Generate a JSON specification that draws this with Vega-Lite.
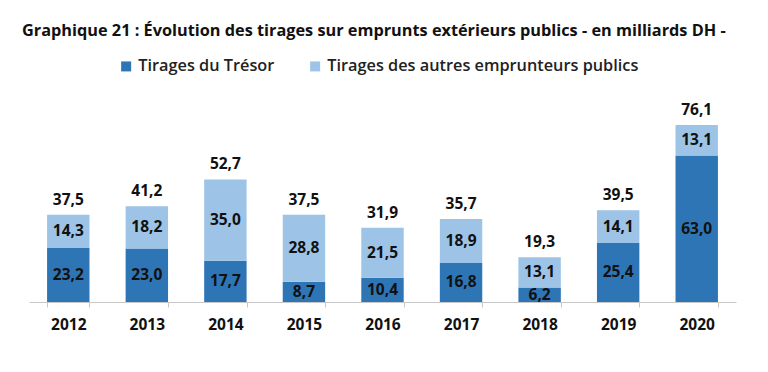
{
  "$schema": "https://vega.github.io/schema/vega-lite/v6.json",
  "width": 707,
  "height": 186,
  "autosize": {"type": "none"},
  "padding": {"left": 29, "top": 116, "right": 32, "bottom": 70},
  "background": "white",
  "title": {
    "text": "Graphique 21 : Évolution des tirages sur emprunts extérieurs publics - en milliards DH -",
    "anchor": "start",
    "frame": "group",
    "dx": -7,
    "offset": 19,
    "fontSize": 16.3,
    "font": "Open Sans",
    "fontWeight": "bold",
    "color": "#111111"
  },
  "data": {
    "values": [
      {"annee": "2012", "serie": "Tirages du Trésor", "ordre": 1, "valeur": 23.2},
      {"annee": "2012", "serie": "Tirages des autres emprunteurs publics", "ordre": 2, "valeur": 14.3},
      {"annee": "2013", "serie": "Tirages du Trésor", "ordre": 1, "valeur": 23.0},
      {"annee": "2013", "serie": "Tirages des autres emprunteurs publics", "ordre": 2, "valeur": 18.2},
      {"annee": "2014", "serie": "Tirages du Trésor", "ordre": 1, "valeur": 17.7},
      {"annee": "2014", "serie": "Tirages des autres emprunteurs publics", "ordre": 2, "valeur": 35.0},
      {"annee": "2015", "serie": "Tirages du Trésor", "ordre": 1, "valeur": 8.7},
      {"annee": "2015", "serie": "Tirages des autres emprunteurs publics", "ordre": 2, "valeur": 28.8},
      {"annee": "2016", "serie": "Tirages du Trésor", "ordre": 1, "valeur": 10.4},
      {"annee": "2016", "serie": "Tirages des autres emprunteurs publics", "ordre": 2, "valeur": 21.5},
      {"annee": "2017", "serie": "Tirages du Trésor", "ordre": 1, "valeur": 16.8},
      {"annee": "2017", "serie": "Tirages des autres emprunteurs publics", "ordre": 2, "valeur": 18.9},
      {"annee": "2018", "serie": "Tirages du Trésor", "ordre": 1, "valeur": 6.2},
      {"annee": "2018", "serie": "Tirages des autres emprunteurs publics", "ordre": 2, "valeur": 13.1},
      {"annee": "2019", "serie": "Tirages du Trésor", "ordre": 1, "valeur": 25.4},
      {"annee": "2019", "serie": "Tirages des autres emprunteurs publics", "ordre": 2, "valeur": 14.1},
      {"annee": "2020", "serie": "Tirages du Trésor", "ordre": 1, "valeur": 63.0},
      {"annee": "2020", "serie": "Tirages des autres emprunteurs publics", "ordre": 2, "valeur": 13.1}
    ]
  },
  "encoding": {
    "x": {
      "field": "annee",
      "type": "nominal",
      "scale": {"paddingInner": 0.46, "paddingOuter": 0.23},
      "axis": {
        "title": null,
        "labelAngle": 0,
        "labelFont": "Open Sans",
        "labelFontWeight": "bold",
        "labelFontSize": 15.5,
        "labelColor": "#111111",
        "labelPadding": 10,
        "tickBand": "extent",
        "tickSize": 5,
        "tickColor": "#c8c8c8",
        "domainColor": "#c8c8c8"
      }
    }
  },
  "layer": [
    {
      "mark": {"type": "bar"},
      "encoding": {
        "y": {
          "field": "valeur",
          "type": "quantitative",
          "aggregate": "sum",
          "stack": "zero",
          "scale": {"domain": [0, 80]},
          "axis": null
        },
        "color": {
          "field": "serie",
          "type": "nominal",
          "scale": {
            "domain": ["Tirages du Trésor", "Tirages des autres emprunteurs publics"],
            "range": ["#2e75b6", "#9dc3e6"]
          },
          "legend": {
            "title": null,
            "orient": "none",
            "direction": "horizontal",
            "legendX": 89,
            "legendY": -58,
            "symbolType": "square",
            "symbolSize": 100,
            "symbolStrokeWidth": 0,
            "labelFont": "Open Sans",
            "labelFontSize": 16.3,
            "labelFontWeight": 600,
            "labelColor": "#222222",
            "labelLimit": 500,
            "labelOffset": 4,
            "columnPadding": 32
          }
        },
        "order": {"field": "ordre", "type": "quantitative"}
      }
    },
    {
      "transform": [
        {"stack": "valeur", "groupby": ["annee"], "sort": [{"field": "ordre"}], "as": ["v0", "v1"]},
        {"calculate": "(datum.v0 + datum.v1) / 2", "as": "mid"}
      ],
      "mark": {"type": "text", "font": "Open Sans", "fontWeight": "bold", "fontSize": 15.5, "color": "#111111", "baseline": "middle"},
      "encoding": {
        "y": {"field": "mid", "type": "quantitative", "axis": null},
        "text": {"field": "valeur", "type": "quantitative", "format": ".1f"}
      }
    },
    {
      "transform": [
        {"aggregate": [{"op": "sum", "field": "valeur", "as": "total"}], "groupby": ["annee"]}
      ],
      "mark": {"type": "text", "font": "Open Sans", "fontWeight": "bold", "fontSize": 15.5, "color": "#111111", "baseline": "bottom", "dy": -7},
      "encoding": {
        "y": {"field": "total", "type": "quantitative", "axis": null},
        "text": {"field": "total", "type": "quantitative", "format": ".1f"}
      }
    }
  ],
  "config": {
    "view": {"stroke": null},
    "locale": {
      "number": {"decimal": ",", "thousands": " ", "grouping": [3], "currency": ["", " DH"]}
    }
  }
}
